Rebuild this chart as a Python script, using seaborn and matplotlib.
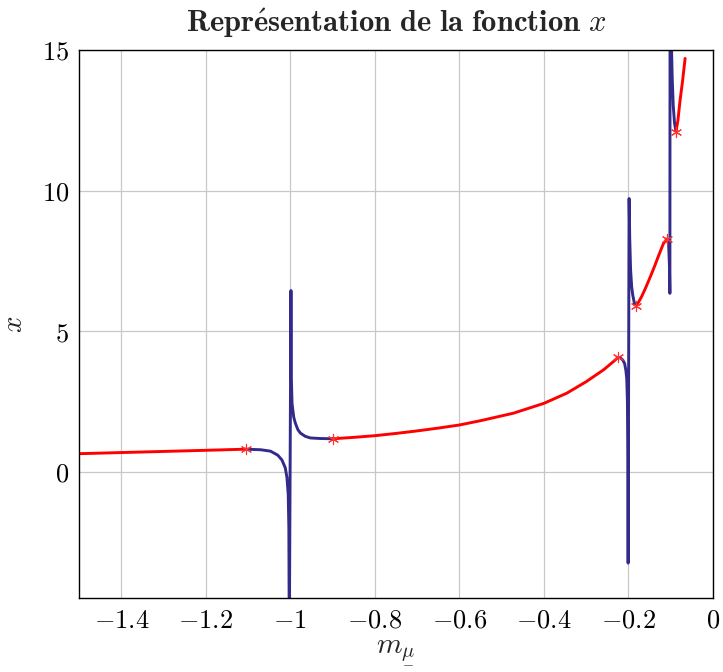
import matplotlib
matplotlib.use("Agg")
import matplotlib.pyplot as plt
import seaborn as sns
import pandas as pd

# =======================
# Données
# =======================
rouge1_m = [-1.5, -1.4, -1.3, -1.2, -1.106]
rouge1_x = [0.65, 0.69, 0.73, 0.77, 0.81]

bleu1_m = [-1.106, -1.07, -1.047, -1.03, -1.02, -1.012, -1.008, -1.005, -1.0035, -1.0025,
           -0.9985, -0.9975, -0.996, -0.992, -0.988, -0.982, -0.976, -0.965, -0.953, -0.93, -0.9]
bleu1_x = [0.81, 0.79, 0.74, 0.6, 0.43, 0.15, -0.2, -0.8, -2.0, -6.0,
           6.45, 3.3, 2.44, 1.95, 1.73, 1.5, 1.38, 1.27, 1.21, 1.19, 1.18]

rouge2_m = [-0.9, -0.85, -0.8, -0.75, -0.7, -0.65, -0.6, -0.551, -0.472, -0.4,
            -0.346, -0.3, -0.259, -0.236, -0.224]
rouge2_x = [1.18, 1.23, 1.29, 1.37, 1.46, 1.56, 1.67, 1.82, 2.09, 2.44,
            2.8, 3.21, 3.63, 3.92, 4.08]

bleu2_m = [-0.224, -0.218, -0.213, -0.209, -0.206, -0.204, -0.2025, -0.2015, -0.2008,
           -0.1985, -0.197, -0.195, -0.1925, -0.19, -0.186, -0.182]
bleu2_x = [4.08, 4.04, 3.97, 3.85, 3.6, 3.3, 2.5, 0.5, -3.24,
           9.72, 8.3, 7.2, 6.6, 6.3, 6.0, 5.91]

rouge3_m = [-0.182, -0.176, -0.169, -0.161, -0.153, -0.145, -0.137, -0.131, -0.125,
            -0.117, -0.109]
rouge3_x = [5.91, 6.04, 6.23, 6.49, 6.77, 7.06, 7.36, 7.6, 7.83, 8.13, 8.28]

bleu3_m = [-0.109, -0.105, -0.103, -0.102, -0.1015, -0.0985, -0.098, -0.0965, -0.094,
           -0.091, -0.0875]
bleu3_x = [8.28, 8.1, 7.3, 6.35, 20.0, 20.0, 15.0, 14.0, 13.0, 12.4, 12.1]

rouge4_m = [-0.0875, -0.083, -0.078, -0.072, -0.066]
rouge4_x = [12.1, 12.5, 13.2, 13.9, 14.7]

points_m = [-1.106, -0.9, -0.224, -0.182, -0.109, -0.0875]
points_x = [0.81, 1.18, 4.08, 5.91, 8.28, 12.1]

xticks = [-1.4, -1.2, -1.0, -0.8, -0.6, -0.4, -0.2, 0.0]
xtick_labels = ["$-1.4$", "$-1.2$", "$-1$", "$-0.8$", "$-0.6$", "$-0.4$", "$-0.2$", "$0$"]
yticks = [0, 5, 10, 15]
ytick_labels = ["$0$", "$5$", "$10$", "$15$"]

# =======================
# Style
# =======================
sns.set_theme(style="whitegrid")
plt.rcParams["mathtext.fontset"] = "cm"
plt.rcParams["font.family"] = ["DejaVu Serif"]

rouge = "#ff0000"
bleu = "#332b8a"

fig = plt.figure(figsize=(7.23, 6.72), dpi=100)
ax = fig.add_axes([79 / 723, 1 - 598 / 672, (713 - 79) / 723, (598 - 50) / 672])

segments = [
    (bleu1_m, bleu1_x, bleu),
    (bleu2_m, bleu2_x, bleu),
    (bleu3_m, bleu3_x, bleu),
    (rouge1_m, rouge1_x, rouge),
    (rouge2_m, rouge2_x, rouge),
    (rouge3_m, rouge3_x, rouge),
    (rouge4_m, rouge4_x, rouge),
]
for m, x, c in segments:
    df = pd.DataFrame({"m": m, "x": x})
    sns.lineplot(data=df, x="m", y="x", sort=False, estimator=None, color=c,
                 linewidth=2.1, ax=ax)

df_pts = pd.DataFrame({"m": points_m, "x": points_x})
sns.scatterplot(data=df_pts, x="m", y="x", marker=(6, 2, 0), s=55, color="#ff3030",
                linewidth=0.8, ax=ax, zorder=5)

ax.set_xlim(-1.5, 0)
ax.set_ylim(-4.48, 15)
ax.set_xticks(xticks)
ax.set_xticklabels(xtick_labels)
ax.set_yticks(yticks)
ax.set_yticklabels(ytick_labels)
ax.tick_params(direction="in", length=5, width=1, colors="#999999", labelcolor="black",
               labelsize=19, pad=7)
ax.grid(True, color="#c8c8c8", linewidth=0.9)
for s in ax.spines.values():
    s.set_color("black")
    s.set_linewidth(1.0)

ax.set_xlabel(r"$m_{\underset{-}{\mu}}$", fontsize=21, labelpad=4)
ax.set_ylabel(r"$x$", fontsize=21, labelpad=10)
ax.set_title(r"$\mathbf{Repr\acute{e}sentation\ de\ la\ fonction}\ x$", fontsize=22, pad=13)

fig.savefig("out.png", dpi=100)
